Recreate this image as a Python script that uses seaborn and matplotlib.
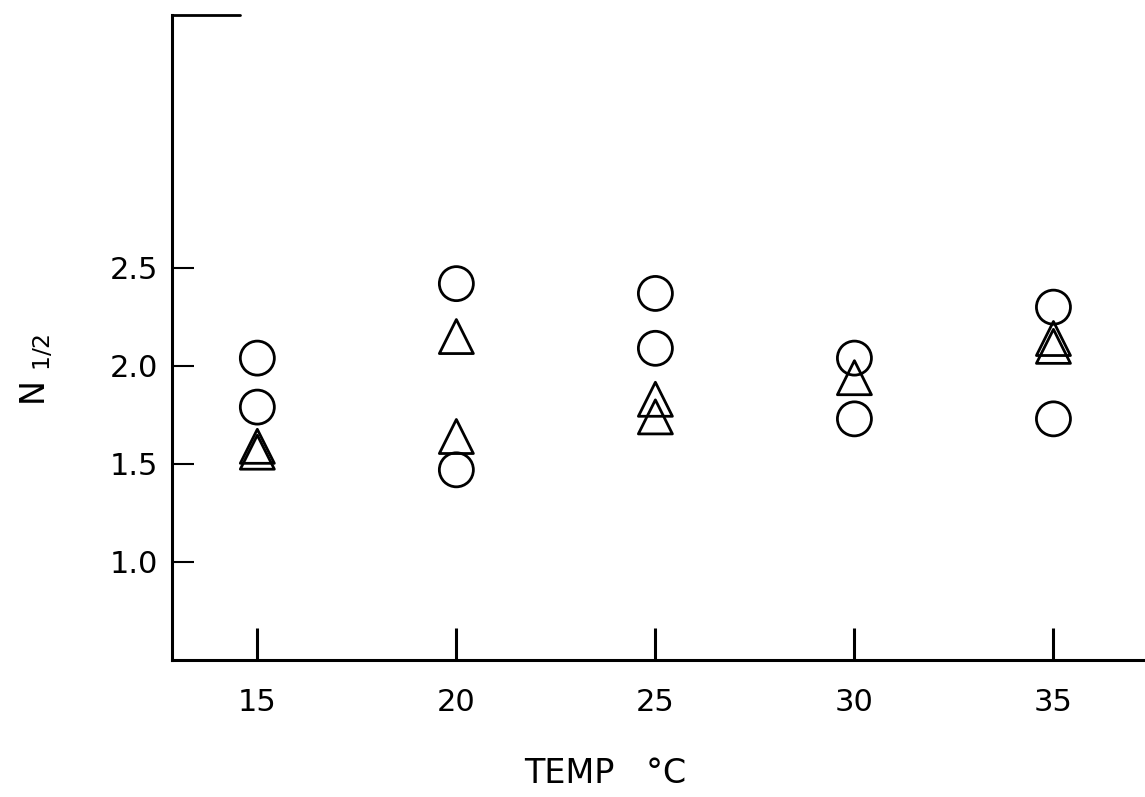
import matplotlib
matplotlib.use("Agg")
import matplotlib.pyplot as plt
import seaborn as sns
import pandas as pd

# N 1/2 versus temperature, two groups (circles and triangles)
temp_circle = [15, 15, 20, 20, 25, 25, 30, 30, 35, 35]
n_circle = [2.04, 1.79, 2.42, 1.47, 2.37, 2.09, 2.04, 1.73, 2.30, 1.73]
temp_triangle = [15, 15, 20, 20, 25, 25, 30, 35, 35]
n_triangle = [1.59, 1.56, 2.15, 1.64, 1.83, 1.74, 1.94, 2.14, 2.10]
x_ticks = [15, 20, 25, 30, 35]
y_ticks = [1.0, 1.5, 2.0, 2.5]
y_ticklabels = ["1.0", "1.5", "2.0", "2.5"]

df = pd.DataFrame({
    "temp": temp_circle + temp_triangle,
    "n": n_circle + n_triangle,
    "group": ["circle"] * len(temp_circle) + ["triangle"] * len(temp_triangle),
})

sns.set_style("white")
plt.rcParams["font.family"] = ["DejaVu Sans"]

fig = plt.figure(figsize=(11.45, 7.97), dpi=100)
ax = fig.add_axes([0.150, 0.172, 0.85, 0.809])

sns.scatterplot(data=df, x="temp", y="n", style="group",
                markers={"circle": "o", "triangle": "^"},
                s=600, facecolors="none", edgecolor="black", color="black",
                linewidth=2, legend=False, ax=ax)

ax.set_xlim(12.85, 37.3)
ax.set_ylim(0.5, 3.79)

ax.set_xticks(x_ticks)
ax.set_yticks(y_ticks)
ax.set_yticklabels(y_ticklabels)
ax.tick_params(axis="x", direction="in", length=23, width=2.2, pad=20,
               labelsize=22, bottom=True, colors="black")
ax.tick_params(axis="y", direction="in", length=16, width=1.5, pad=10,
               labelsize=22, left=True, colors="black")

for side in ["top", "right"]:
    ax.spines[side].set_visible(False)
for side in ["left", "bottom"]:
    ax.spines[side].set_linewidth(2.2)
    ax.spines[side].set_color("black")

# short stroke at the top of the y axis
ax.plot([0, 0.07], [1, 1], transform=ax.transAxes, color="black",
        linewidth=2, clip_on=False)

ax.set_xlabel("TEMP   °C", fontsize=24, color="black")
ax.xaxis.set_label_coords(0.445, -0.15)
ax.set_ylabel(r"N $_{1/2}$", fontsize=24, color="black")
ax.yaxis.set_label_coords(-0.12, 0.45)

plt.savefig("out.png", dpi=100)
